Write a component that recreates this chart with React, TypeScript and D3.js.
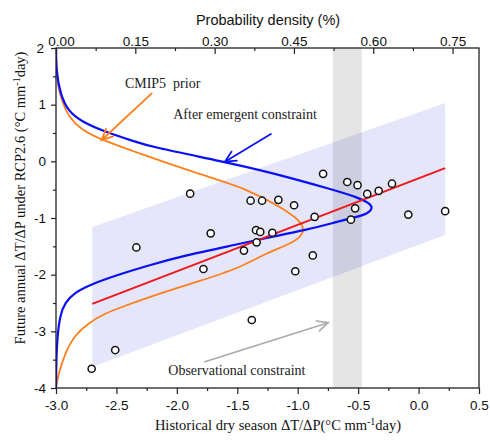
import React, { useRef, useEffect } from "react";
import * as d3 from "d3";

// observed models: historical dry season dT/dP vs future annual dT/dP
const obsX = [-0.79, -0.59, -0.505, -0.22, -0.33, -0.425, -0.525, -0.56, -0.085, 0.22,
  -1.89, -1.39, -1.295, -1.16, -1.03, -0.86, -1.72, -1.345, -1.31, -1.21,
  -1.34, -1.445, -0.875, -1.78, -1.02, -1.38, -2.51, -2.705, -2.335];
const obsY = [-0.22, -0.365, -0.42, -0.395, -0.52, -0.575, -0.83, -1.03, -0.94, -0.88,
  -0.57, -0.695, -0.695, -0.68, -0.775, -0.98, -1.27, -1.215, -1.245, -1.26,
  -1.43, -1.575, -1.66, -1.9, -1.94, -2.8, -3.33, -3.66, -1.52];

// regression line and its prediction band
const fitX = [-2.7, 0.22];
const fitY = [-2.515, -0.12];
const bandX = [-2.7, 0.22];
const bandUpper = [-1.16, 1.03];
const bandLower = [-3.63, -1.3];

// observational constraint range
const obsRange = [-0.71, -0.47];

// probability densities (%) read along the y axis
const priorY = [2, 1.6, 1.3, 1.08, 0.79, 0.55, 0.38, 0.17, 0.06, -0.21, -0.5, -0.83, -1.07, -1.24,
  -1.42, -1.62, -1.89, -2.11, -2.36, -2.57, -2.68, -2.85, -3.06, -3.38, -3.77, -4];
const priorDensity = [0, 0.001, 0.004, 0.011, 0.023, 0.049, 0.086, 0.149, 0.182, 0.266, 0.366, 0.429, 0.465, 0.47,
  0.454, 0.397, 0.345, 0.272, 0.187, 0.125, 0.093, 0.062, 0.036, 0.017, 0.004, 0];
const postY = [2, 1.6, 1.2, 0.88, 0.7, 0.52, 0.35, 0.26, -0.01, -0.19, -0.5, -0.63, -0.74, -0.83,
  -0.92, -0.98, -1.07, -1.21, -1.35, -1.48, -1.67, -1.83, -1.99, -2.17, -2.31, -2.49, -2.72,
  -3.08, -3.47, -4];
const postDensity = [0, 0.0005, 0.0076, 0.023, 0.049, 0.093, 0.149, 0.178, 0.319, 0.404, 0.524, 0.569, 0.594, 0.599,
  0.59, 0.569, 0.531, 0.474, 0.399, 0.335, 0.24, 0.178, 0.121, 0.066, 0.036, 0.017, 0.0076,
  0.0028, 0.0006, 0];

const xTicks = [-3, -2.5, -2, -1.5, -1, -0.5, 0, 0.5];
const xMinor = [-2.75, -2.25, -1.75, -1.25, -0.75, -0.25, 0.25];
const yTicks = [-4, -3, -2, -1, 0, 1, 2];
const yMinor = [-3.5, -2.5, -1.5, -0.5, 0.5, 1.5];
const densityTicks = [0, 0.15, 0.3, 0.45, 0.6, 0.75];
const densityMinor = [0.075, 0.225, 0.375, 0.525, 0.675];

const serif = "'Liberation Serif', 'Times New Roman', serif";
const sans = "'Liberation Sans', Arial, sans-serif";

export default function App() {
  const gRef = useRef(null);

  useEffect(() => {
    const root = d3.select(gRef.current);
    root.selectAll("*").remove();

    const x = d3.scaleLinear().domain([-3, 0.5]).range([56, 479]);
    const y = d3.scaleLinear().domain([-4, 2]).range([388, 48]);
    const xd = d3.scaleLinear().domain([0, 0.8]).range([56, 479]);

    root.append("clipPath").attr("id", "plot-clip")
      .append("rect").attr("x", 56).attr("y", 48).attr("width", 423).attr("height", 340);

    const plot = root.append("g").attr("clip-path", "url(#plot-clip)");

    // prediction band
    const band = bandX.map((v, i) => ({ x: v, lo: bandLower[i], hi: bandUpper[i] }));
    plot.append("path")
      .attr("d", d3.area().x(d => x(d.x)).y0(d => y(d.lo)).y1(d => y(d.hi))(band))
      .attr("fill", "#e6e6fb");

    // observational constraint
    plot.append("rect")
      .attr("x", x(obsRange[0])).attr("width", x(obsRange[1]) - x(obsRange[0]))
      .attr("y", y(2)).attr("height", y(-4) - y(2))
      .attr("fill", "rgba(0,0,0,0.1)");

    const pdfLine = d3.line().x(d => xd(d[1])).y(d => y(d[0])).curve(d3.curveBasis);

    plot.append("path")
      .attr("d", pdfLine(priorY.map((v, i) => [v, priorDensity[i]])))
      .attr("fill", "none").attr("stroke", "#ff7f1e").attr("stroke-width", 1.8);

    plot.append("path")
      .attr("d", pdfLine(postY.map((v, i) => [v, postDensity[i]])))
      .attr("fill", "none").attr("stroke", "#0a10f5").attr("stroke-width", 2.2);

    plot.append("path")
      .attr("d", d3.line().x(d => x(d[0])).y(d => y(d[1]))(fitX.map((v, i) => [v, fitY[i]])))
      .attr("fill", "none").attr("stroke", "#ee1818").attr("stroke-width", 2);

    plot.selectAll(".obs")
      .data(obsX.map((v, i) => [v, obsY[i]]))
      .join("circle")
      .attr("class", "obs")
      .attr("cx", d => x(d[0])).attr("cy", d => y(d[1]))
      .attr("r", 3.6)
      .attr("fill", "white").attr("stroke", "#111").attr("stroke-width", 1.5);

    // arrows
    const arrow = (x0, y0, x1, y1, color, width) => {
      const px0 = x(x0), py0 = y(y0), px1 = x(x1), py1 = y(y1);
      const a = Math.atan2(py1 - py0, px1 - px0);
      const len = 12, spread = 0.45;
      const g = root.append("g").attr("stroke", color).attr("stroke-width", width).attr("fill", "none")
        .attr("stroke-linecap", "round");
      g.append("line").attr("x1", px0).attr("y1", py0).attr("x2", px1).attr("y2", py1);
      g.append("path").attr("d",
        `M${px1 - len * Math.cos(a - spread)},${py1 - len * Math.sin(a - spread)}L${px1},${py1}L${px1 - len * Math.cos(a + spread)},${py1 - len * Math.sin(a + spread)}`);
    };
    arrow(-2.208, 1.2, -2.622, 0.377, "#ff7f1e", 1.8);
    arrow(-1.222, 0.482, -1.602, -0.006, "#0a10f5", 1.8);
    arrow(-1.768, -3.535, -0.748, -2.847, "#aaaaaa", 1.6);

    const note = (tx, ty, label) => root.append("text")
      .attr("x", x(tx)).attr("y", y(ty))
      .attr("font-family", serif).attr("font-size", 14).attr("fill", "#222")
      .attr("xml:space", "preserve")
      .text(label);
    note(-2.43, 1.29, "CMIP5  prior");
    note(-2.03, 0.75, "After emergent constraint");
    note(-2.071, -3.77, "Observational constraint");

    // axes
    const styleAxis = (g) => {
      g.select(".domain").remove();
      g.selectAll("line").attr("stroke", "#222").attr("stroke-width", 1.2);
      g.selectAll("text").attr("font-family", sans).attr("font-size", 13.5).attr("fill", "#111");
    };

    root.append("g").attr("transform", "translate(0,388)")
      .call(d3.axisBottom(x).tickValues(xTicks).tickFormat(d => d.toFixed(1)).tickSize(6).tickPadding(6))
      .call(styleAxis);
    root.append("g").attr("transform", "translate(0,388)")
      .call(d3.axisBottom(x).tickValues(xMinor).tickFormat(() => "").tickSize(3))
      .call(styleAxis);

    root.append("g").attr("transform", "translate(56,0)")
      .call(d3.axisLeft(y).tickValues(yTicks).tickFormat(d => String(d)).tickSize(5).tickPadding(5))
      .call(styleAxis)
      .selectAll(".tick text").filter(d => d === 2).attr("dx", -2);
    root.append("g").attr("transform", "translate(56,0)")
      .call(d3.axisLeft(y).tickValues(yMinor).tickFormat(() => "").tickSize(3))
      .call(styleAxis);

    root.append("g").attr("transform", "translate(0,48)")
      .call(d3.axisTop(xd).tickValues(densityTicks).tickFormat(d3.format(".2f")).tickSize(-6).tickPadding(2))
      .call(styleAxis)
      .selectAll(".tick text").filter(d => d === 0).attr("dx", 5);
    root.append("g").attr("transform", "translate(0,48)")
      .call(d3.axisTop(xd).tickValues(densityMinor).tickFormat(() => "").tickSize(-3))
      .call(styleAxis);

    root.append("rect")
      .attr("x", 56).attr("y", 48).attr("width", 423).attr("height", 340)
      .attr("fill", "none").attr("stroke", "#222").attr("stroke-width", 1.3);
  }, []);

  return (
    <svg width={490} height={444}
      style={{ position: "absolute", left: 0, top: 0, background: "white" }}>
      <g ref={gRef} />
      <text x={268} y={25} textAnchor="middle" fontFamily={sans} fontSize={14.5} fill="#111">
        Probability density (%)
      </text>
      <text x={278} y={430} textAnchor="middle" fontFamily={serif} fontSize={14.5} fill="#111">
        Historical dry season ΔT/ΔP(°C mm<tspan dy={-5} fontSize={10}>-1</tspan><tspan dy={5}>day)</tspan>
      </text>
      <text transform="translate(25,198) rotate(-90)" textAnchor="middle" fontFamily={serif} fontSize={14.5} fill="#111">
        Future annual ΔT/ΔP under RCP2.6 (°C mm<tspan dy={-5} fontSize={10}>-1</tspan><tspan dy={5}>day)</tspan>
      </text>
    </svg>
  );
}
